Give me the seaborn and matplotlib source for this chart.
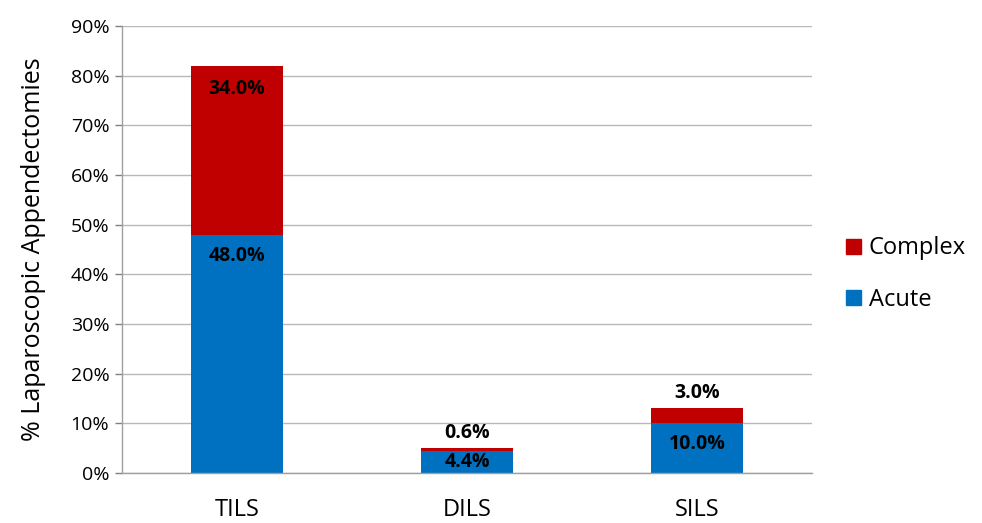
import pandas as pd
import numpy as np
import matplotlib.pyplot as plt
import seaborn as sns
from matplotlib.patches import Patch

# ===== DONNEES =====
categories = ['TILS', 'DILS', 'SILS']
acute = [48.0, 4.4, 10.0]
complex_ = [34.0, 0.6, 3.0]
yticks = [0, 10, 20, 30, 40, 50, 60, 70, 80, 90]

red = '#C00000'
blue = '#0070C0'
grid_col = '#B8B8B8'

df = pd.DataFrame({'cat': categories, 'acute': acute, 'complex': complex_})
df['total'] = df['acute'] + df['complex']

sns.set_style("white")
plt.rcParams['font.family'] = ['Open Sans', 'DejaVu Sans']
plt.rcParams['text.color'] = 'black'
plt.rcParams['xtick.color'] = 'black'
plt.rcParams['ytick.color'] = 'black'
plt.rcParams['axes.labelcolor'] = 'black'

fig = plt.figure(figsize=(9.82, 5.23), dpi=100)
ax = fig.add_axes([0.124, 0.0956, 0.703, 0.8544])

# barres empilees : total (rouge) puis aigu (bleu) par-dessus
sns.barplot(data=df, x='cat', y='total', color=red, width=0.4, ax=ax,
            saturation=1, zorder=3, linewidth=0)
sns.barplot(data=df, x='cat', y='acute', color=blue, width=0.4, ax=ax,
            saturation=1, zorder=4, linewidth=0)

ax.set_xlim(-0.5, len(categories) - 0.5)
ax.set_ylim(0, 90)
ax.set_yticks(yticks)
ax.set_yticklabels([f'{v}%' for v in yticks], fontsize=14)
ax.set_xticks(range(len(categories)))
ax.set_xticklabels(categories, fontsize=17)
ax.set_xlabel('')
ax.set_ylabel('% Laparoscopic Appendectomies', fontsize=18, labelpad=18)

# graduations x aux limites des categories
ax.set_xticks(np.arange(-0.5, len(categories)), minor=True)
ax.tick_params(axis='x', which='major', length=0, pad=18)
ax.tick_params(axis='x', which='minor', length=6, color='#808080', width=1)
ax.tick_params(axis='y', length=5, color='#808080', width=1, pad=4, left=True)

ax.yaxis.grid(True, color=grid_col, linewidth=1, zorder=0)
ax.set_axisbelow(True)
for s in ['top', 'right']:
    ax.spines[s].set_visible(False)
for s in ['left', 'bottom']:
    ax.spines[s].set_color('#9F9F9F')
    ax.spines[s].set_linewidth(1)
    ax.spines[s].set_zorder(5)

# etiquettes de valeurs
px_per_unit = ax.get_window_extent().height / 90
for i, row in df.iterrows():
    # aigu : a l'interieur, pres du haut
    h_px = row['acute'] * px_per_unit
    off = h_px * 0.5 * 72 / 100 if h_px < 40 else 15
    ax.annotate(f"{row['acute']:.1f}%", (i, row['acute']), xytext=(0, -off),
                textcoords='offset points', ha='center', va='center',
                fontsize=14, fontweight='bold', zorder=6)
    # complexe : a l'interieur si grand, sinon au-dessus
    dy = -17 if row['complex'] > 10 else 11
    ax.annotate(f"{row['complex']:.1f}%", (i, row['total']), xytext=(0, dy),
                textcoords='offset points', ha='center', va='center',
                fontsize=14, fontweight='bold', zorder=6)

handles = [Patch(color=red, label='Complex'), Patch(color=blue, label='Acute')]
fig.legend(handles=handles, loc='center left', bbox_to_anchor=(0.862, 0.476),
           frameon=False, fontsize=17, handlelength=0.6, handleheight=0.6,
           handletextpad=0.35, labelspacing=1.15, borderpad=0, borderaxespad=0)

plt.savefig('out.png', dpi=100)
